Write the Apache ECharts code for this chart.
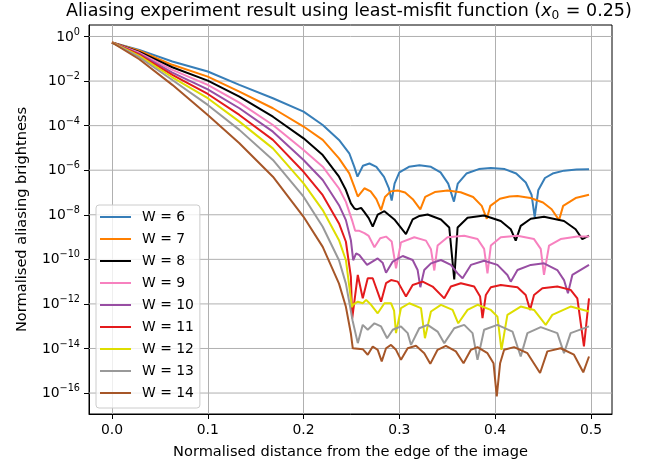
<!DOCTYPE html>
<html>
<head>
<meta charset="utf-8">
<script src="https://cdn.jsdelivr.net/npm/echarts@6/dist/echarts.min.js"></script>
<style>
  html, body { margin: 0; padding: 0; background: #fff; }
  #chart { width: 658px; height: 465px; }
</style>
</head>
<body>
<div id="chart"></div>
<script>
// [x, log10(brightness)], one list per kernel width
const w6 = [[0,-0.27],[0.0285,-0.6],[0.063,-1.12],[0.1,-1.57],[0.133,-2.17],[0.168,-2.77],[0.2,-3.37],[0.22,-3.97],[0.237,-4.64],[0.2477,-5.24],[0.2529,-5.84],[0.2563,-6.29],[0.262,-5.8],[0.2688,-5.7],[0.276,-5.85],[0.284,-6.3],[0.289,-6.8],[0.292,-7.36],[0.295,-6.6],[0.3,-6.1],[0.31,-5.85],[0.321,-5.78],[0.333,-5.85],[0.343,-6.1],[0.351,-6.6],[0.357,-7.41],[0.361,-6.6],[0.37,-6.15],[0.383,-5.95],[0.3955,-5.9],[0.41,-5.95],[0.422,-6.15],[0.432,-6.55],[0.438,-7.1],[0.4413,-8.1],[0.445,-6.9],[0.452,-6.35],[0.46,-6.15],[0.472,-6.02],[0.485,-5.97],[0.498,-5.96]];
const w7 = [[0,-0.27],[0.0285,-0.64],[0.063,-1.27],[0.1,-1.8],[0.133,-2.47],[0.168,-3.22],[0.2,-4.04],[0.22,-4.64],[0.237,-5.47],[0.2477,-6.14],[0.2529,-6.74],[0.2566,-7.18],[0.2635,-6.81],[0.27,-6.95],[0.276,-7.3],[0.2809,-7.79],[0.285,-7.2],[0.291,-6.95],[0.2983,-6.91],[0.306,-7.0],[0.314,-7.3],[0.3219,-7.76],[0.327,-7.2],[0.337,-6.98],[0.3503,-6.91],[0.364,-6.99],[0.377,-7.2],[0.386,-7.6],[0.3913,-8.18],[0.395,-7.6],[0.405,-7.28],[0.415,-7.18],[0.4233,-7.16],[0.437,-7.25],[0.45,-7.45],[0.459,-7.75],[0.4667,-8.24],[0.471,-7.6],[0.484,-7.25],[0.498,-7.1]];
const w8 = [[0,-0.27],[0.0285,-0.69],[0.063,-1.38],[0.1,-1.98],[0.133,-2.7],[0.168,-3.6],[0.2,-4.57],[0.22,-5.32],[0.237,-6.29],[0.2442,-6.89],[0.2494,-7.49],[0.2531,-7.72],[0.2555,-7.76],[0.2601,-7.69],[0.2635,-7.88],[0.268,-8.15],[0.2722,-8.53],[0.2774,-7.99],[0.2844,-7.84],[0.2948,-8.21],[0.3069,-8.87],[0.3139,-8.21],[0.321,-8.05],[0.3295,-7.99],[0.3434,-8.21],[0.3521,-8.57],[0.3573,-10.9],[0.3608,-8.57],[0.3712,-8.13],[0.3885,-8.03],[0.4059,-8.28],[0.4163,-8.65],[0.4215,-9.16],[0.4267,-8.5],[0.4372,-8.18],[0.451,-8.09],[0.4719,-8.28],[0.484,-8.65],[0.491,-9.09],[0.498,-8.94]];
const w9 = [[0,-0.27],[0.0285,-0.73],[0.063,-1.5],[0.1,-2.17],[0.133,-2.97],[0.168,-3.97],[0.2,-5.09],[0.22,-5.84],[0.237,-6.82],[0.2442,-7.42],[0.2511,-8.31],[0.2539,-8.72],[0.2583,-8.72],[0.2635,-8.82],[0.268,-8.95],[0.274,-9.46],[0.28,-9.05],[0.2861,-8.98],[0.292,-9.2],[0.2965,-10.4],[0.3017,-9.24],[0.3156,-9.01],[0.3278,-9.16],[0.333,-9.55],[0.3365,-10.5],[0.3399,-9.38],[0.3503,-9.01],[0.3677,-8.94],[0.3816,-9.09],[0.3885,-9.53],[0.392,-10.63],[0.3955,-9.38],[0.4059,-9.01],[0.4233,-8.94],[0.4406,-9.09],[0.4476,-9.53],[0.451,-10.7],[0.4563,-9.38],[0.4684,-9.09],[0.4858,-8.97],[0.498,-8.97]];
const w10 = [[0,-0.27],[0.0285,-0.78],[0.063,-1.62],[0.1,-2.37],[0.133,-3.22],[0.168,-4.27],[0.2,-5.54],[0.22,-6.44],[0.237,-7.57],[0.2442,-8.24],[0.2494,-9.14],[0.2518,-10.04],[0.2549,-9.73],[0.2583,-9.81],[0.2663,-10.25],[0.2774,-9.96],[0.2825,-10.15],[0.2861,-10.6],[0.2931,-10.1],[0.3035,-9.85],[0.3139,-10.03],[0.3191,-10.48],[0.3219,-11.25],[0.326,-10.48],[0.333,-10.18],[0.3434,-10.03],[0.3538,-10.25],[0.3608,-10.63],[0.366,-10.85],[0.3747,-10.25],[0.3885,-10.06],[0.4024,-10.25],[0.4128,-10.7],[0.4163,-11.0],[0.4233,-10.48],[0.4372,-10.25],[0.451,-10.18],[0.4649,-10.48],[0.4719,-10.93],[0.476,-11.52],[0.4806,-10.7],[0.498,-10.25]];
const w11 = [[0,-0.27],[0.0285,-0.82],[0.063,-1.72],[0.1,-2.58],[0.133,-3.52],[0.168,-4.64],[0.2,-6.07],[0.22,-7.12],[0.237,-8.39],[0.2442,-9.21],[0.2494,-10.79],[0.2508,-12.65],[0.2566,-10.7],[0.2618,-11.75],[0.267,-10.85],[0.2722,-10.85],[0.2809,-11.9],[0.2861,-11.07],[0.2913,-10.93],[0.2983,-11.0],[0.3069,-11.67],[0.3139,-11.15],[0.3243,-11.0],[0.3347,-11.22],[0.3469,-11.75],[0.3538,-11.22],[0.3642,-11.07],[0.3781,-11.22],[0.3843,-11.67],[0.3868,-12.64],[0.3903,-11.6],[0.3955,-11.25],[0.4059,-11.15],[0.4233,-11.25],[0.4319,-11.6],[0.4365,-12.27],[0.4406,-11.6],[0.4493,-11.3],[0.4649,-11.22],[0.4788,-11.37],[0.4858,-11.75],[0.4927,-13.91],[0.498,-11.75]];
const w12 = [[0,-0.27],[0.0285,-0.87],[0.063,-1.83],[0.1,-2.77],[0.133,-3.82],[0.168,-5.02],[0.2,-6.59],[0.22,-7.79],[0.237,-9.14],[0.2442,-10.04],[0.2477,-11.2],[0.2505,-12.15],[0.2514,-12.04],[0.2566,-11.9],[0.2618,-11.97],[0.2653,-11.82],[0.2705,-12.04],[0.2774,-12.42],[0.2844,-11.97],[0.2913,-11.97],[0.2945,-12.3],[0.2965,-13.31],[0.3017,-12.19],[0.3104,-11.97],[0.3226,-12.19],[0.3267,-13.54],[0.333,-12.34],[0.3434,-12.04],[0.3556,-12.27],[0.3615,-12.87],[0.3712,-12.27],[0.3816,-12.04],[0.3955,-12.27],[0.4024,-12.57],[0.4066,-14.06],[0.4128,-12.49],[0.4267,-12.12],[0.4406,-12.27],[0.4528,-12.94],[0.4597,-12.49],[0.4788,-12.12],[0.498,-12.34]];
const w13 = [[0,-0.27],[0.0285,-0.93],[0.063,-1.95],[0.1,-3.07],[0.133,-4.19],[0.168,-5.54],[0.2,-7.19],[0.22,-8.54],[0.237,-10.04],[0.2442,-11.09],[0.2511,-12.73],[0.2566,-13.76],[0.2618,-12.94],[0.267,-13.16],[0.274,-12.87],[0.2809,-13.01],[0.2872,-13.54],[0.2931,-13.16],[0.3017,-13.01],[0.3087,-13.31],[0.3122,-13.84],[0.3208,-13.09],[0.3295,-12.94],[0.3399,-13.24],[0.3469,-13.76],[0.3573,-13.09],[0.3677,-12.94],[0.3764,-13.31],[0.3816,-14.51],[0.3885,-13.16],[0.4024,-12.94],[0.4181,-13.24],[0.4267,-14.36],[0.4337,-13.31],[0.4476,-13.04],[0.4649,-13.31],[0.4719,-14.21],[0.4788,-13.31],[0.498,-13.01]];
const w14 = [[0,-0.27],[0.0285,-1.02],[0.063,-2.17],[0.1,-3.52],[0.133,-4.79],[0.168,-6.29],[0.2,-8.09],[0.22,-9.44],[0.237,-11.09],[0.2442,-12.13],[0.2494,-13.33],[0.2514,-13.99],[0.2618,-14.03],[0.267,-14.28],[0.2722,-13.91],[0.2774,-14.06],[0.2816,-14.58],[0.2861,-13.99],[0.2913,-13.84],[0.2965,-14.06],[0.3017,-14.51],[0.3087,-13.99],[0.3174,-13.88],[0.326,-14.21],[0.3323,-14.69],[0.3399,-14.06],[0.3486,-13.88],[0.359,-14.13],[0.367,-14.66],[0.3747,-14.06],[0.3816,-13.94],[0.392,-14.21],[0.3983,-14.66],[0.4017,-16.15],[0.4052,-14.66],[0.4094,-14.06],[0.4198,-13.94],[0.4337,-14.21],[0.4469,-15.1],[0.4545,-14.13],[0.4684,-13.99],[0.4823,-14.28],[0.492,-15.07],[0.498,-14.36]];

const widths = [6, 7, 8, 9, 10, 11, 12, 13, 14];
const curves = [w6, w7, w8, w9, w10, w11, w12, w13, w14];
const colors = ['#377eb8', '#ff7f00', '#000000', '#f781bf', '#984ea3', '#e41a1c', '#dede00', '#999999', '#a65628'];
const xTicks = [0, 0.1, 0.2, 0.3, 0.4, 0.5];
const yTicks = [1e-16, 1e-14, 1e-12, 1e-10, 1e-8, 1e-6, 1e-4, 1e-2, 1];
const xRange = [-0.024, 0.522];

const font = 'DejaVu Sans';
const gridColor = '#b0b0b0';
const chart = echarts.init(document.getElementById('chart'));

// horizontal grid lines only at the labelled decades (log splitLine would draw every decade)
const yGrid = [];
yTicks.forEach(v => { yGrid.push([xRange[0], v], [xRange[1], v], '-'); });

const series = [{
  name: 'ygrid',
  type: 'line',
  data: yGrid,
  connectNulls: false,
  showSymbol: false,
  symbol: 'none',
  silent: true,
  lineStyle: { width: 1, color: gridColor },
  z: 1
}].concat(widths.map((w, i) => ({
  name: 'W = ' + w,
  type: 'line',
  data: curves[i].map(p => [p[0], Math.pow(10, p[1])]),
  showSymbol: false,
  symbol: 'none',
  color: colors[i],
  lineStyle: { width: 2, color: colors[i] },
  z: 2 + i
})));

chart.setOption({
  backgroundColor: '#ffffff',
  animation: false,
  textStyle: { fontFamily: font },
  title: {
    text: '{a|Aliasing experiment result using least-misfit function (}{i|x}{s|0}{a| = 0.25)}',
    left: 66,
    top: 2,
    padding: 0,
    textStyle: {
      fontWeight: 'normal',
      rich: {
        a: { fontFamily: font, fontSize: 17.5, fontWeight: 'normal', color: '#000', lineHeight: 19, verticalAlign: 'top' },
        i: { fontFamily: font, fontSize: 17.5, fontWeight: 'normal', fontStyle: 'italic', color: '#000', lineHeight: 19, verticalAlign: 'top' },
        s: { fontFamily: font, fontSize: 12.2, fontWeight: 'normal', color: '#000', lineHeight: 13, padding: [8, 1, 0, 0], verticalAlign: 'top' }
      }
    }
  },
  legend: {
    orient: 'vertical',
    left: 96,
    top: 205,
    padding: [3, 6, 6, 4],
    itemGap: 4,
    itemWidth: 31,
    itemHeight: 2,
    icon: 'rect',
    backgroundColor: 'rgba(255,255,255,0.8)',
    borderColor: '#cccccc',
    borderWidth: 1,
    borderRadius: 3,
    textStyle: { fontFamily: font, fontSize: 13.9, color: '#000', lineHeight: 18, padding: [0, 0, 0, 6] },
    data: widths.map(w => 'W = ' + w)
  },
  grid: {
    left: 89, top: 25, width: 523, height: 389,
    show: true, borderColor: '#000', borderWidth: 1,
    outerBoundsMode: 'none'
  },
  xAxis: {
    type: 'value',
    min: xRange[0],
    max: xRange[1],
    name: 'Normalised distance from the edge of the image',
    nameLocation: 'middle',
    nameGap: 31,
    nameTextStyle: { fontFamily: font, fontSize: 14.6, color: '#000' },
    axisLine: { show: true, onZero: false, lineStyle: { color: '#000', width: 1 } },
    axisTick: { show: true, length: 5, lineStyle: { color: '#000' }, customValues: xTicks },
    axisLabel: {
      customValues: xTicks, margin: 9, fontFamily: font, fontSize: 13.9, color: '#000',
      formatter: v => v.toFixed(1)
    },
    splitLine: { show: true, lineStyle: { color: gridColor, width: 1 } }
  },
  yAxis: {
    type: 'log',
    logBase: 10,
    min: Math.pow(10, -16.94),
    max: Math.pow(10, 0.516),
    name: 'Normalised aliasing brightness',
    nameLocation: 'middle',
    nameGap: 59,
    nameTextStyle: { fontFamily: font, fontSize: 14.6, color: '#000' },
    axisLine: { show: true, onZero: false, lineStyle: { color: '#000', width: 1 } },
    axisTick: { show: true, length: 5, lineStyle: { color: '#000' }, customValues: yTicks },
    axisLabel: {
      customValues: yTicks, margin: 9, color: '#000',
      formatter: v => {
        const e = Math.round(Math.log10(v));
        return '{b|10}{s|' + (e < 0 ? '\u2212' + (-e) : e) + '}';
      },
      rich: {
        b: { fontFamily: font, fontSize: 13.9, color: '#000', lineHeight: 15, verticalAlign: 'bottom' },
        s: { fontFamily: font, fontSize: 9.7, color: '#000', lineHeight: 10, padding: [0, 0, 7, 0], verticalAlign: 'bottom' }
      }
    },
    splitLine: { show: false }
  },
  series: series
});
</script>
</body>
</html>
